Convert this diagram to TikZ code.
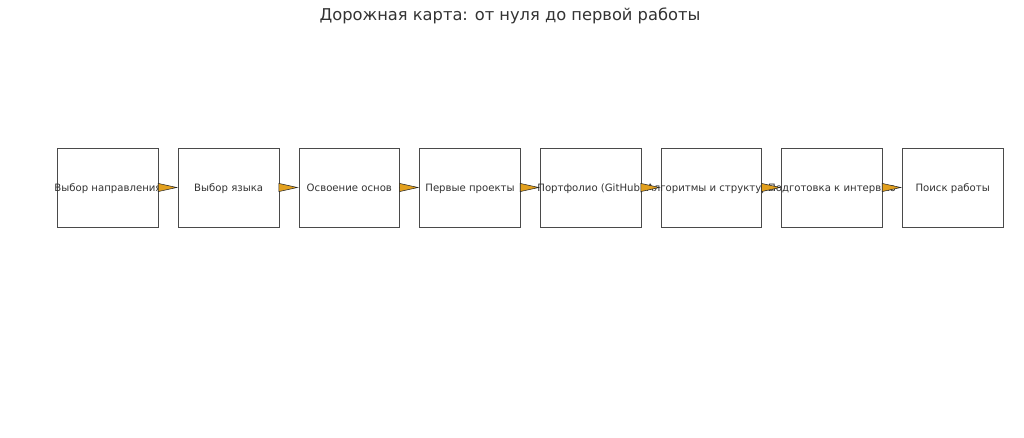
\documentclass[tikz,border=0pt]{standalone}
\usepackage{fontspec}
\setmainfont{DejaVu Sans}
\usetikzlibrary{positioning, arrows.meta}
\definecolor{boxline}{HTML}{4A4A4A}
\definecolor{labelgray}{HTML}{333333}
\definecolor{arrowfill}{HTML}{E2A01E}
% label may run past the box edge, box keeps its size
\newcommand{\overrun}[1]{\makebox[0pt]{#1}}
\tikzstyle{stage} = [rectangle, minimum width=75.4pt, minimum height=59.3pt, inner sep=0pt, text height=1.6ex, text depth=0.4ex, draw=boxline, line width=0.65pt, fill=white, text=labelgray, font=\fontsize{7.6}{9}\selectfont]
\tikzstyle{arrow} = [draw=black!85, line width=0.4pt, -{Triangle[length=15pt, width=6.5pt, fill=arrowfill]}]

\begin{document}
\begin{tikzpicture}[x=0.75pt, y=-0.75pt, node distance=90.5pt]

\useasboundingbox (0,0) rectangle (1024,438);

\node (title) [text=labelgray, font=\fontsize{12.2}{14}\selectfont] at (510,16) {Дорожная карта: от нуля до первой работы};

\node (field) [stage] at (108,187.5) {\overrun{Выбор направления}};
\node (lang) [stage, right of=field] {\overrun{Выбор языка}};
\node (basics) [stage, right of=lang] {\overrun{Освоение основ}};
\node (projects) [stage, right of=basics] {\overrun{Первые проекты}};
\node (portfolio) [stage, right of=projects] {\overrun{Портфолио (GitHub)}};
\node (algo) [stage, right of=portfolio] {\overrun{Алгоритмы и структуры}};
\node (interview) [stage, right of=algo] {\overrun{Подготовка к интервью}};
\node (jobsearch) [stage, right of=interview] {\overrun{Поиск работы}};

\draw [arrow] (field) -- (lang);
\draw [arrow] (lang) -- (basics);
\draw [arrow] (basics) -- (projects);
\draw [arrow] (projects) -- (portfolio);
\draw [arrow] (portfolio) -- (algo);
\draw [arrow] (algo) -- (interview);
\draw [arrow] (interview) -- (jobsearch);

\end{tikzpicture}
\end{document}
